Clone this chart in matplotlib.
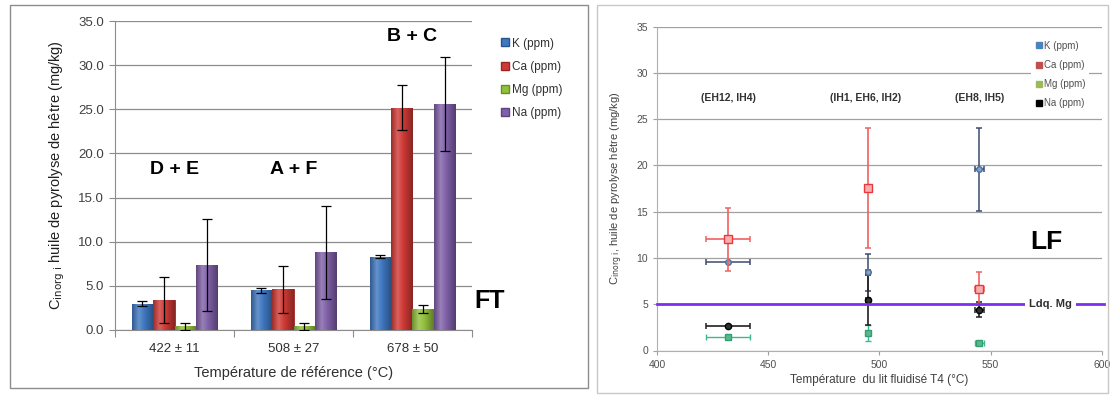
import matplotlib
matplotlib.use("Agg")
import matplotlib.pyplot as plt
import numpy as np
from matplotlib.patches import Rectangle
from matplotlib.lines import Line2D
from matplotlib.colors import LinearSegmentedColormap, to_rgb

plt.rcParams['font.family'] = ['Liberation Sans', 'DejaVu Sans']

# ---------------- Left panel data (FT) ----------------
groups = ["422 ± 11", "508 ± 27", "678 ± 50"]
series = ["K (ppm)", "Ca (ppm)", "Mg (ppm)", "Na (ppm)"]
K_ft = [3.0, 4.5, 8.3]
K_ft_err = [0.3, 0.3, 0.2]
Ca_ft = [3.4, 4.6, 25.2]
Ca_ft_err = [2.6, 2.65, 2.6]
Mg_ft = [0.4, 0.4, 2.35]
Mg_ft_err = [0.35, 0.4, 0.45]
Na_ft = [7.4, 8.8, 25.6]
Na_ft_err = [5.2, 5.25, 5.3]
group_labels_ft = ["D + E", "A + F", "B + C"]

# ---------------- Right panel data (LF) ----------------
temps = [432, 495, 545]
temps_err = [10, 1, 2]
K_lf = [9.6, 8.45, 19.6]
K_lf_err = [0.0, 2.0, 4.5]
Ca_lf = [12.0, 17.6, 6.7]
Ca_lf_err = [3.4, 6.5, 1.8]
Mg_lf = [1.5, 1.9, 0.8]
Mg_lf_err = [0.0, 0.9, 0.0]
Na_lf = [2.6, 5.5, 4.4]
Na_lf_err = [0.0, 2.7, 0.8]
group_labels_lf = ["(EH12, IH4)", "(IH1, EH6, IH2)", "(EH8, IH5)"]
ldq_mg = 5.0

bar_colors = ["#3F77C0", "#D03A36", "#92C03C", "#8060A8"]
edge_colors = ["#2A5690", "#9C2522", "#6A8E25", "#5C4280"]


def shade(c, f):
    r = np.array(to_rgb(c))
    if f >= 0:
        return tuple(r + (1 - r) * f)
    return tuple(r * (1 + f))


fig = plt.figure(figsize=(11.13, 4.0), dpi=100)

# panel frames
fig.patches.append(Rectangle((10/1113, 1-388/400), 578/1113, 383/400, transform=fig.transFigure,
                             fill=False, edgecolor="#8C8C8C", lw=1.0))
fig.patches.append(Rectangle((597/1113, 1-393/400), 511/1113, 388/400, transform=fig.transFigure,
                             fill=False, edgecolor="#C8C8C8", lw=1.0))

# ================= Left axes =================
ax = fig.add_axes([115/1113, 1-330/400, 357/1113, 309/400])
x = np.arange(len(groups))
bw = 0.18
vals = [K_ft, Ca_ft, Mg_ft, Na_ft]
errs = [K_ft_err, Ca_ft_err, Mg_ft_err, Na_ft_err]
ax.set_xlim(-0.5, len(groups) - 0.5)
ax.set_ylim(0, 35)
grad = np.linspace(0, 1, 64).reshape(1, -1)
for i, (v, e) in enumerate(zip(vals, errs)):
    pos = x + (i - 1.5) * bw
    bars = ax.bar(pos, v, width=bw, color=bar_colors[i], edgecolor=edge_colors[i], lw=0.6,
                  label=series[i], zorder=3)
    cmap = LinearSegmentedColormap.from_list(
        "g%d" % i, [(0.0, shade(bar_colors[i], -0.25)), (0.3, shade(bar_colors[i], 0.2)),
                    (0.55, bar_colors[i]), (1.0, shade(bar_colors[i], -0.35))])
    for b in bars:
        x0, w, h = b.get_x(), b.get_width(), b.get_height()
        im = ax.imshow(grad, extent=[x0, x0 + w, 0, h], aspect='auto', cmap=cmap,
                       zorder=3.5, interpolation='bilinear')
        im.set_clip_path(b)
    ax.errorbar(pos, v, yerr=e, fmt='none', ecolor='black', elinewidth=0.9,
                capsize=3.5, capthick=0.9, zorder=4)

ax.set_xlim(-0.5, len(groups) - 0.5)
ax.set_ylim(0, 35)
ax.set_yticks(np.arange(0, 35.1, 5))
ax.set_yticklabels([f"{t:.1f}" for t in np.arange(0, 35.1, 5)], fontsize=9.5, color="#404040")
ax.yaxis.grid(True, color="#8C8C8C", lw=0.9, zorder=0)
ax.set_axisbelow(True)
ax.set_xticks(np.arange(len(groups) + 1) - 0.5)
ax.set_xticklabels([])
ax.set_xticks(x, minor=True)
ax.set_xticklabels(groups, minor=True, fontsize=9.5, color="#303030")
ax.tick_params(axis='x', which='minor', length=0, pad=9)
ax.tick_params(axis='x', which='major', length=5, color="#8C8C8C")
ax.tick_params(axis='y', length=4, color="#8C8C8C", pad=4)
for s in ["top", "right"]:
    ax.spines[s].set_visible(False)
for s in ["left", "bottom"]:
    ax.spines[s].set_color("#8C8C8C")
ax.set_xlabel("Température de référence (°C)", fontsize=10.5, color="#303030", labelpad=8)
ax.set_ylabel(r"C$_{\mathrm{inorg\ i}}$ huile de pyrolyse de hêtre (mg/kg)", fontsize=10.5,
              color="#202020", labelpad=8)

# group labels
ax.text(x[0], 18.2, group_labels_ft[0], ha='center', va='center', fontsize=14, fontweight='bold')
ax.text(x[1], 18.2, group_labels_ft[1], ha='center', va='center', fontsize=14, fontweight='bold')
ax.text(x[2], 33.2, group_labels_ft[2], ha='center', va='center', fontsize=14, fontweight='bold')
fig.text(490/1113, 1-301/400, "FT", ha='center', va='center', fontsize=18, fontweight='bold')

handles = [Line2D([], [], marker='s', ls='none', markersize=5.5, markerfacecolor=bar_colors[i],
                  markeredgecolor=edge_colors[i], label=series[i]) for i in range(4)]
fig.legend(handles=handles, loc='upper left', bbox_to_anchor=(488/1113, 1-27/400), frameon=False,
           fontsize=8.5, handletextpad=0.1, labelspacing=0.95, handlelength=1.0,
           labelcolor="#303030")

# ================= Right axes =================
ax2 = fig.add_axes([657/1113, 1-350.5/400, 444.7/1113, 323.8/400])
ax2.set_xlim(400, 600)
ax2.set_ylim(0, 35)
ax2.set_yticks(np.arange(0, 36, 5))
ax2.set_xticks(np.arange(400, 601, 50))
ax2.tick_params(labelsize=7.5, labelcolor="#505050", color="#A0A0A0", length=3)
ax2.yaxis.grid(True, color="#A0A0A0", lw=0.9, zorder=0)
ax2.set_axisbelow(True)
for s in ["top", "right"]:
    ax2.spines[s].set_visible(False)
for s in ["left", "bottom"]:
    ax2.spines[s].set_color("#B0B0B0")

ax2.errorbar(temps, K_lf, xerr=temps_err, yerr=K_lf_err, fmt='o', color="#4F81BD",
             markersize=4, mfc="#7FA6D0", mec="#4F6F95", ecolor="#3C4B6E", elinewidth=1.1,
             capsize=2.5, capthick=1.1, zorder=3)
ax2.errorbar(temps, Ca_lf, xerr=temps_err, yerr=Ca_lf_err, fmt='s', color="#E8383D",
             markersize=6, mfc="#F6B0B0", mec="#E8383D", ecolor="#F06060", elinewidth=1.2,
             capsize=2.5, capthick=1.1, zorder=4)
ax2.errorbar(temps, Mg_lf, xerr=temps_err, yerr=Mg_lf_err, fmt='s', color="#30A878",
             markersize=4.5, mfc="#5CB88A", mec="#30A070", ecolor="#3CB890", elinewidth=1.0,
             capsize=2.5, capthick=1.0, zorder=3)
ax2.errorbar(temps, Na_lf, xerr=temps_err, yerr=Na_lf_err, fmt='o', color="black",
             markersize=4.5, mfc="#303030", mec="black", ecolor="#202020", elinewidth=1.2,
             capsize=2.5, capthick=1.1, zorder=3)

ax2.plot([400, 601], [ldq_mg, ldq_mg], color="#7B30F0", lw=2.0, zorder=5, clip_on=False)
ax2.text(577, ldq_mg, "Ldq. Mg", ha='center', va='center', fontsize=8, fontweight='bold',
         color="#303030", zorder=6, bbox=dict(facecolor='white', edgecolor='none', pad=3))
ax2.text(575, 11.7, "LF", ha='center', va='center', fontsize=19, fontweight='bold')

for t, lab in zip(temps, group_labels_lf):
    ax2.text(t if t != 495 else 494, 27.3, lab, ha='center', va='center', fontsize=7.5,
             fontweight='bold', color="#303030")

ax2.set_xlabel("Température  du lit fluidisé T4 (°C)", fontsize=8.5, color="#404040", labelpad=3)
ax2.set_ylabel(r"C$_{\mathrm{inorg\ i}}$, huile de pyrolyse hêtre (mg/kg)", fontsize=8,
               color="#404040", labelpad=8)

lf_colors = ["#4F81BD", "#C0504D", "#9BBB59", "black"]
handles2 = [Line2D([], [], marker='s', ls='none', markersize=4.5, markerfacecolor=lf_colors[i],
                   markeredgecolor=lf_colors[i], label=series[i]) for i in range(4)]
leg2 = ax2.legend(handles=handles2, loc='upper left', bbox_to_anchor=((1026-657)/444.7, (350.5-33)/323.8),
                  frameon=True, fontsize=7, handletextpad=0.1, labelspacing=0.95, handlelength=1.0,
                  labelcolor="#505050", borderpad=0.3)
leg2.get_frame().set_edgecolor('none')
leg2.get_frame().set_facecolor('white')
leg2.get_frame().set_alpha(1)

fig.savefig("out.png", dpi=100)
